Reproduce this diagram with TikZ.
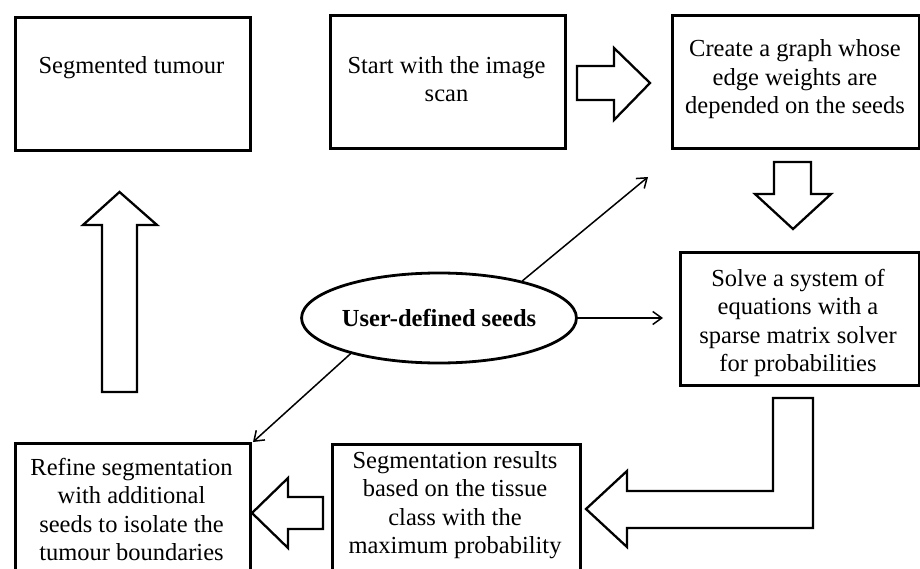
\documentclass[tikz,border=0pt]{standalone}
\usepackage{fontspec}
\setmainfont{Liberation Serif}
\usetikzlibrary{arrows.meta,shapes.geometric}
\tikzset{
  box/.style={draw, line width=2.8pt, rectangle, inner sep=0pt, anchor=north west},
  txt/.style={inner sep=0pt, align=center, anchor=base, font=\fontsize{24.5pt}{28.5pt}\selectfont},
  blockarrow/.style={draw, line width=2.3pt, line join=miter, fill=white},
  seedarrow/.style={draw, line width=1.5pt, -{Straight Barb[length=9pt,width=13pt,line width=1.5pt]}},
  seedsnode/.style={draw, ellipse, line width=2.8pt, minimum width=218pt, minimum height=90pt, inner sep=0pt, font=\fontsize{24.5pt}{28.5pt}\selectfont\bfseries}
}
\begin{document}
\begin{tikzpicture}[x=1pt,y=-1pt]
\useasboundingbox (0,0) rectangle (920,569);
\clip (0,0) rectangle (920,569);
\fill[white] (0,0) rectangle (920,569);
% boxes
\node[box, minimum width=235pt, minimum height=133pt] (b1) at (14,16) {};
\node[box, minimum width=235pt, minimum height=133pt] (b2) at (329,14) {};
\node[box, minimum width=246.5pt, minimum height=133pt] (b3) at (671,14) {};
\node[box, minimum width=238.5pt, minimum height=133pt] (b4) at (679,251) {};
\node[box, minimum width=235pt, minimum height=160pt] (b5) at (14,442) {};
\node[box, minimum width=248pt, minimum height=160pt] (b6) at (331,443) {};
% texts (anchor = baseline of last line)
\node[txt] (t1) at (131.5,74) {Segmented tumour};
\node[txt] (t2) at (446.5,102) {Start with the image\\scan};
\node[txt] (t3) at (795,114) {Create a graph whose\\edge weights are\\depended on the seeds};
\node[txt] (t4) at (798,371.5) {Solve a system of\\equations with a\\sparse matrix solver\\for probabilities};
\node[txt] (t5) at (131.5,560.5) {Refine segmentation\\with additional\\seeds to isolate the\\tumour boundaries};
\node[txt] (t6) at (455,553.5) {Segmentation results\\based on the tissue\\class with the\\maximum probability};
% ellipse
\node[seedsnode] (seeds) at (439,318) {User-defined seeds};
% thin arrows
\coordinate (e1) at (648,177);
\coordinate (e2) at (663,318);
\coordinate (e3) at (253,442);
\draw[seedarrow] (seeds.24) -- (e1);
\draw[seedarrow] (seeds.east) -- (e2);
\draw[seedarrow] (seeds.202) -- (e3);
% block arrows
\draw[blockarrow] (577,66) -- (614,66) -- (614,48) -- (650,83) -- (614,120) -- (614,100) -- (577,100) -- cycle;
\draw[blockarrow] (774,162) -- (811,162) -- (811,194) -- (831,194) -- (793,229) -- (755,194) -- (774,194) -- cycle;
\draw[blockarrow] (102,392) -- (102,225) -- (83,225) -- (119.5,192) -- (157,225) -- (137,225) -- (137,392) -- cycle;
\draw[blockarrow] (773,398) -- (813,398) -- (813,528) -- (627,528) -- (627,547) -- (586,509) -- (627,471) -- (627,491) -- (773,491) -- cycle;
\draw[blockarrow] (323,497) -- (323,529) -- (288,529) -- (288,548) -- (252,513) -- (288,478) -- (288,497) -- cycle;
\end{tikzpicture}
\end{document}
